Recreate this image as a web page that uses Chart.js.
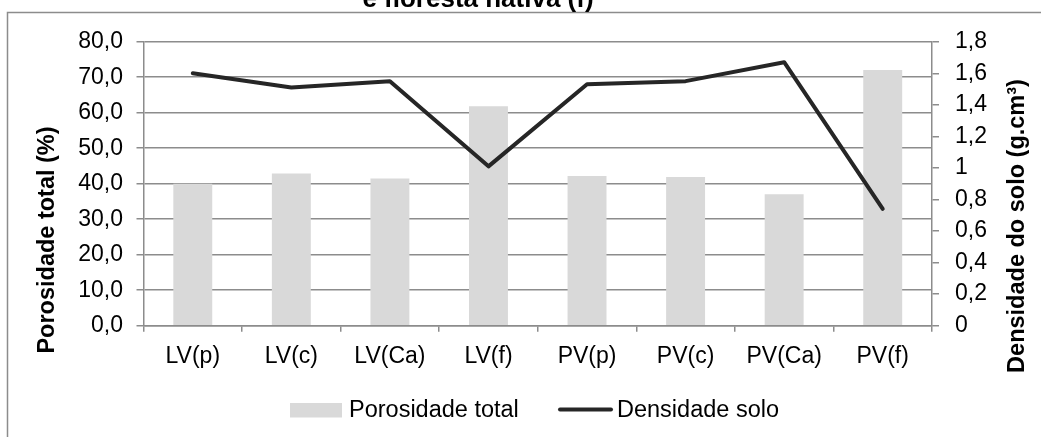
<!DOCTYPE html>
<html>
<head>
<meta charset="utf-8">
<script src="https://cdn.jsdelivr.net/npm/chart.js@4"></script>
<style>
  html, body { margin: 0; padding: 0; background: #fff; }
  #wrap { width: 1041px; height: 437px; position: relative; }
</style>
</head>
<body>
<div id="wrap"><canvas id="chart"></canvas></div>
<script>
// Data
const categories = ['LV(p)', 'LV(c)', 'LV(Ca)', 'LV(f)', 'PV(p)', 'PV(c)', 'PV(Ca)', 'PV(f)'];
const porosidade = [40.0, 42.9, 41.5, 61.8, 42.2, 41.9, 37.0, 72.0];
const densidade = [1.60, 1.51, 1.55, 1.01, 1.53, 1.55, 1.67, 0.74];

const leftTitle = 'Porosidade total (%)';
const rightTitle = 'Densidade do solo (g.cm³)';
const chartTitle = 'e floresta nativa (f)';

const GRID = '#8c8c8c';
const FONT = 'Liberation Sans, Arial, sans-serif';
Chart.defaults.font.family = FONT;
Chart.defaults.color = '#000';

// frame, titles and legend, drawn straight on the canvas
const decorations = {
  id: 'decorations',
  beforeDraw(chart) {
    const ctx = chart.ctx;
    ctx.save();
    ctx.fillStyle = '#fff';
    ctx.fillRect(0, 0, chart.width, chart.height);
    ctx.strokeStyle = GRID;
    ctx.lineWidth = 1.5;
    ctx.strokeRect(7.5, 12.5, 1200, 600);
    ctx.restore();
  },
  afterDraw(chart) {
    const ctx = chart.ctx;
    ctx.save();
    ctx.fillStyle = '#000';
    ctx.textBaseline = 'middle';
    ctx.textAlign = 'center';

    // chart title, mostly cut off at the top
    ctx.font = 'bold 26px ' + FONT;
    ctx.textBaseline = 'alphabetic';
    ctx.fillText(chartTitle, 478, 7);

    // axis titles
    ctx.textBaseline = 'middle';
    ctx.font = 'bold 23.5px ' + FONT;
    ctx.save();
    ctx.translate(48, 240);
    ctx.rotate(-Math.PI / 2);
    ctx.fillText(leftTitle, 0, 0);
    ctx.restore();
    ctx.save();
    ctx.translate(1018, 226);
    ctx.rotate(-Math.PI / 2);
    ctx.fillText(rightTitle, 0, 0);
    ctx.restore();

    // legend
    const ds = chart.data.datasets;
    const bar = ds.find(d => d.type === 'bar');
    const line = ds.find(d => d.type === 'line');
    ctx.font = '23.5px ' + FONT;
    ctx.textAlign = 'left';
    ctx.fillStyle = bar.backgroundColor;
    ctx.fillRect(290, 403, 52, 14.5);
    ctx.fillStyle = '#000';
    ctx.fillText(bar.label, 349, 411);
    ctx.strokeStyle = line.borderColor;
    ctx.lineWidth = 4;
    ctx.lineCap = 'round';
    ctx.beginPath();
    ctx.moveTo(560, 409.5);
    ctx.lineTo(611, 409.5);
    ctx.stroke();
    ctx.fillText(line.label, 617, 411);
    ctx.restore();
  }
};

function commaNum(v) {
  const r = Math.round(v * 10) / 10;
  return String(r).replace('.', ',');
}

new Chart(document.getElementById('chart'), {
  data: {
    labels: categories,
    datasets: [
      {
        type: 'line', label: 'Densidade solo', data: densidade, yAxisID: 'y1',
        borderColor: '#262626', borderWidth: 4, pointRadius: 0, tension: 0,
        borderCapStyle: 'round', borderJoinStyle: 'round', fill: false, order: 0
      },
      {
        type: 'bar', label: 'Porosidade total', data: porosidade, yAxisID: 'y',
        backgroundColor: '#d9d9d9', barPercentage: 0.395, categoryPercentage: 1,
        order: 1
      }
    ]
  },
  options: {
    responsive: true, maintainAspectRatio: false, animation: false,
    layout: { padding: { top: 41.7, left: 0, right: 0, bottom: 0 } },
    plugins: { legend: { display: false }, tooltip: { enabled: false } },
    scales: {
      x: {
        type: 'category', offset: true,
        grid: { offset: true, drawOnChartArea: false, drawTicks: true, tickLength: 6, color: GRID, lineWidth: 1.5 },
        border: { color: GRID, width: 1.5 },
        ticks: { font: { size: 23 }, color: '#000', padding: 11, maxRotation: 0, autoSkip: false },
        afterFit: s => { s.height = 111.3; }
      },
      y: {
        position: 'left', min: 0, max: 80,
        grid: { color: GRID, lineWidth: 1.5, tickLength: 7 },
        border: { color: GRID, width: 1.5 },
        ticks: { stepSize: 10, font: { size: 23 }, color: '#000', padding: 13.5,
          callback: v => v.toFixed(1).replace('.', ',') },
        afterFit: s => { s.width = 143.5; }
      },
      y1: {
        position: 'right', min: 0, max: 1.8,
        grid: { drawOnChartArea: false, color: GRID, lineWidth: 1.5, tickLength: 7 },
        border: { color: GRID, width: 1.5 },
        ticks: { stepSize: 0.2, font: { size: 23 }, color: '#000', padding: 16,
          callback: v => commaNum(v) },
        afterFit: s => { s.width = 109; }
      }
    }
  },
  plugins: [decorations]
});
</script>
</body>
</html>
